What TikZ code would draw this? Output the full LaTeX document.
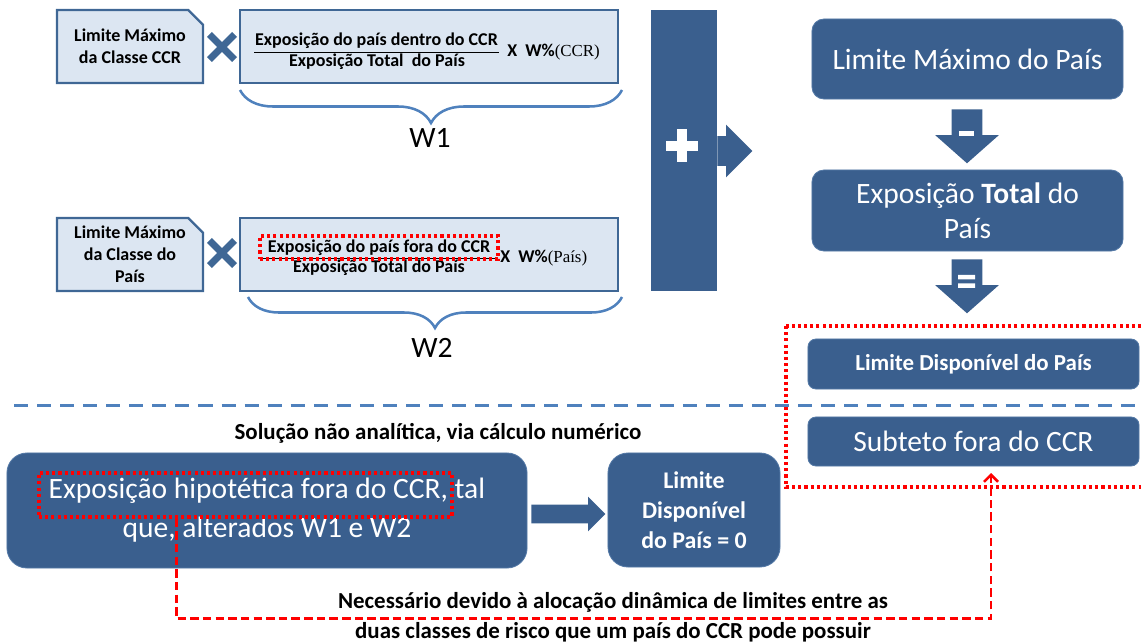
\documentclass[tikz,border=0pt]{standalone}
\usepackage{fontspec}
\setmainfont{Carlito}
\newfontfamily\timespart{Liberation Serif}
\usepackage{xcolor}
\usepackage{tikz}
\usetikzlibrary{shapes.misc}
\usetikzlibrary{shapes.arrows}
\usetikzlibrary{arrows.meta}
\usetikzlibrary{decorations.pathreplacing}
\usetikzlibrary{calc}

\definecolor{deepblue}{HTML}{3A5F8E}
\definecolor{edgeblue}{HTML}{5479A6}
\definecolor{paleblue}{HTML}{DCE6F2}
\definecolor{paleline}{HTML}{3F6795}
\definecolor{accentblue}{HTML}{4F81BD}

\begin{document}
\begin{tikzpicture}[x=0.025cm,y=-0.025cm,
    pale/.style={chamfered rectangle, chamfered rectangle corners=north east,
      chamfered rectangle xsep=0.17cm, chamfered rectangle ysep=0.2cm,
      fill=paleblue, draw=paleline, line width=1.6pt, inner sep=0pt, align=center,
      font=\bfseries\fontsize{12.8}{15.5}\selectfont},
    dark/.style={rounded corners=0.3cm, fill=deepblue, draw=edgeblue, line width=0.6pt,
      text=white, align=center, inner sep=0pt},
    blockarrow/.style={single arrow, fill=deepblue, inner xsep=0pt, anchor=tail},
    times/.style={cross out, draw=paleline, line width=5pt, minimum size=0.45cm, inner sep=0pt},
    curly/.style={decorate, decoration={brace, mirror, amplitude=#1}, draw=accentblue, line width=1.8pt},
    reddot/.style={draw=red, line width=2.3pt, dash pattern=on 2.2pt off 2.2pt},
    redlink/.style={draw=red, line width=1.8pt, dash pattern=on 6pt off 3pt,
      -{Straight Barb[length=5pt,width=10pt]}},
    splitline/.style={draw=accentblue, line width=2.1pt, dash pattern=on 10pt off 6.4pt},
    bigtxt/.style={font=\fontsize{21}{25}\selectfont},
    fractxt/.style={inner sep=0pt, font=\bfseries\fontsize{12.8}{15}\selectfont},
    boldtxt/.style={inner sep=0pt, align=center, font=\bfseries\fontsize{16.3}{21.3}\selectfont}
  ]
\useasboundingbox (0,0) rectangle (1141,642);

% first class: CCR
\node[pale, minimum width=3.65cm, minimum height=1.825cm] (limCCR) at (130,46.5) {Limite Máximo\\da Classe CCR};
\node[times] (crossA) at (222,47) {};
\node[pale, minimum width=9.45cm, minimum height=1.825cm] (wCCR) at (429,46.5) {};
\node[fractxt] (numA) at (376.5,41) {Exposição do país dentro do CCR};
\node[fractxt] (denA) at (377,62) {Exposição Total\ \ do País};
\draw[line width=0.7pt] (254,52) -- (499,52);
\node[fractxt, anchor=west] (pctA) at (507,52) {X\ \ W\%{\mdseries\timespart\fontsize{12}{14}\selectfont(CCR)}};
\draw[curly=0.825cm] (240,90) -- (622,90);
\node[bigtxt] (lblA) at (430,138) {W1};

% second class: country
\node[pale, minimum width=3.65cm, minimum height=1.825cm] (limPais) at (130,254.5) {Limite Máximo\\da Classe do\\País};
\node[times] (crossB) at (222,253) {};
\node[pale, minimum width=9.45cm, minimum height=1.825cm] (wPais) at (429,254.5) {};
\node[fractxt] (denB) at (379,268) {Exposição Total do País};
\draw[line width=0.7pt] (260,258.5) -- (498,258.5);
\node[fractxt, reddot, minimum width=5.95cm, minimum height=0.575cm] (numB) at (379,247.5) {Exposição do país fora do CCR};
\node[fractxt, anchor=west] (pctB) at (500,258) {X\ \ W\%{\mdseries\timespart\fontsize{12}{14}\selectfont(País)}};
\draw[curly=0.775cm] (248,297) -- (622,297);
\node[bigtxt] (lblB) at (432,348) {W2};

% sum bar
\node[fill=deepblue, minimum width=1.65cm, minimum height=7.025cm, inner sep=0pt] (sumBar) at (684,150.5) {};
\draw[white, line width=7.1pt] (666,146) -- (698,146) (682,129.5) -- (682,162.5);
\node[blockarrow, inner ysep=10.3pt, single arrow head extend=8.2pt, minimum height=0.875cm] (sumArr) at (717,151) {};

% right column
\node[dark, bigtxt, minimum width=7.775cm, minimum height=2cm] (limMax) at (967.5,59) {Limite Máximo do País};
\node[blockarrow, rotate=-90, inner ysep=10.67pt, single arrow head extend=11.7pt,
  single arrow tip angle=97, minimum height=1.35cm] (minusArr) at (967,109) {};
\fill[white] (959,131.5) rectangle (974,136.5);
\node[dark, bigtxt, minimum width=7.775cm, minimum height=2.025cm] (expTot) at (967.5,210.5) {Exposição \textbf{Total} do\\País};
\node[blockarrow, rotate=-90, inner ysep=10.67pt, single arrow head extend=11.7pt,
  single arrow tip angle=97, minimum height=1.35cm] (eqArr) at (967,259) {};
\fill[white] (958,275) rectangle (975,279.5) (958,283.5) rectangle (975,288);
\node[dark, boldtxt, rounded corners=0.2cm, minimum width=8.275cm, minimum height=1.25cm] (limDisp) at (973.5,364) {Limite Disponível do País};
\node[dark, bigtxt, rounded corners=0.2cm, minimum width=8.275cm, minimum height=1.225cm] (subteto) at (973.5,441.5) {Subteto fora do CCR};
\draw[reddot] (786,326) rectangle (1146,487);

\draw[splitline] (14,405.5) -- (1141,405.5);

% numerical solution
\node[boldtxt] (solTxt) at (438,433) {Solução não analítica, via cálculo numérico};
\node[dark, rounded corners=0.5cm, minimum width=13cm, minimum height=2.875cm,
  font=\fontsize{21}{27.7}\selectfont] (hypoBox) at (267,510.5) {Exposição hipotética fora do CCR, tal\\que, alterados W1 e W2};
\node[reddot, minimum width=10.325cm, minimum height=1.1cm, inner sep=0pt] (hypo) at (245.5,495) {};
\node[blockarrow, inner ysep=6.4pt, single arrow head extend=5.7pt, minimum height=1.85cm] (goArr) at (531,514) {};
\node[dark, rounded corners=0.5cm, minimum width=4.3cm, minimum height=2.85cm,
  font=\bfseries\fontsize{17}{21.3}\selectfont] (zeroBox) at (694,510) {Limite\\Disponível\\do País = 0};
\node[boldtxt] (needTxt) at (613,617) {Necessário devido à alocação dinâmica de limites entre as\\duas classes de risco que um país do CCR pode possuir};

\coordinate (subTip) at (991,473);
\draw[redlink] ($(hypo.south west)+(139,0)$) -- ++(0,100) -| (subTip);
\end{tikzpicture}
\end{document}
